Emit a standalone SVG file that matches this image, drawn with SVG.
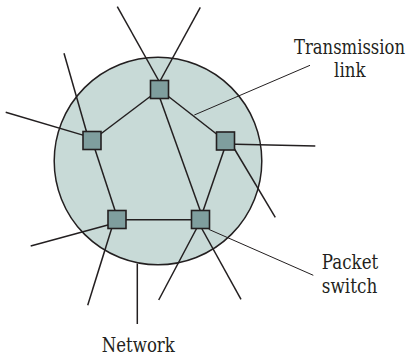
<svg xmlns="http://www.w3.org/2000/svg" width="409" height="357" viewBox="0 0 409 357">
<style>
.ln{stroke:#231f20;stroke-width:1.5;fill:none;stroke-linecap:butt}
.ld{stroke:#231f20;stroke-width:1;fill:none}
.sw{fill:#7f9e9e;stroke:#231f20;stroke-width:1.6}
.lbl{font-size:19.5px;fill:#231f20;text-anchor:middle}
</style>
<rect width="409" height="357" fill="#ffffff"/>
<g id="network">
<circle cx="158" cy="161" r="103.8" fill="#c8dad7" stroke="#231f20" stroke-width="1.5"/>
</g>
<g id="connectors">
<line class="ln" x1="117.3" y1="6.7" x2="159.5" y2="82"/>
<line class="ln" x1="200.3" y1="7.3" x2="159.5" y2="82"/>
<line class="ln" x1="64" y1="53.3" x2="88" y2="137"/>
<line class="ln" x1="5.7" y1="112.3" x2="88" y2="136.6"/>
<line class="ln" x1="225" y1="144" x2="315.3" y2="146"/>
<line class="ln" x1="229.7" y1="141" x2="275.3" y2="217.3"/>
<line class="ln" x1="117" y1="222.5" x2="30.7" y2="246"/>
<line class="ln" x1="114.6" y1="219" x2="87.7" y2="305.3"/>
<line class="ln" x1="201.6" y1="219" x2="158.7" y2="300"/>
<line class="ln" x1="196.5" y1="219" x2="241" y2="299.3"/>
<line class="ln" x1="159.5" y1="89.5" x2="92" y2="140.5"/>
<line class="ln" x1="159.5" y1="89.5" x2="225.5" y2="141"/>
<line class="ln" x1="156.8" y1="89.5" x2="203.3" y2="219.3"/>
<line class="ln" x1="92.1" y1="140.5" x2="117.9" y2="219.3"/>
<line class="ln" x1="227.1" y1="141" x2="200.2" y2="219.3"/>
<line class="ln" x1="117" y1="219.7" x2="200.5" y2="219.7"/>
<line class="ln" x1="137.3" y1="263.5" x2="137.3" y2="324"/>
<line class="ld" x1="194.3" y1="115" x2="310" y2="65.3"/>
<line class="ld" x1="208.7" y1="229.3" x2="313.3" y2="275.3"/>
</g>
<g id="switch-top"><rect class="sw" x="150.5" y="80.5" width="18" height="18"/></g>
<g id="switch-left"><rect class="sw" x="83" y="131.5" width="18" height="18"/></g>
<g id="switch-right"><rect class="sw" x="216.5" y="132" width="18" height="18"/></g>
<g id="switch-bottom-left"><rect class="sw" x="108" y="210.5" width="18" height="18"/></g>
<g id="switch-bottom-right"><rect class="sw" x="191.5" y="210.5" width="18" height="18"/></g>
<g id="labels" font-family="DejaVu Serif, serif">
<text class="lbl" x="349.5" y="54.3" textLength="111" lengthAdjust="spacingAndGlyphs">Transmission</text>
<text class="lbl" x="349.8" y="77.3" textLength="31.5" lengthAdjust="spacingAndGlyphs">link</text>
<text class="lbl" x="350" y="269.3" textLength="56.5" lengthAdjust="spacingAndGlyphs">Packet</text>
<text class="lbl" x="349.5" y="293.3" textLength="55.5" lengthAdjust="spacingAndGlyphs">switch</text>
<text class="lbl" x="138.3" y="351.7" textLength="73" lengthAdjust="spacingAndGlyphs">Network</text>
</g>
</svg>
